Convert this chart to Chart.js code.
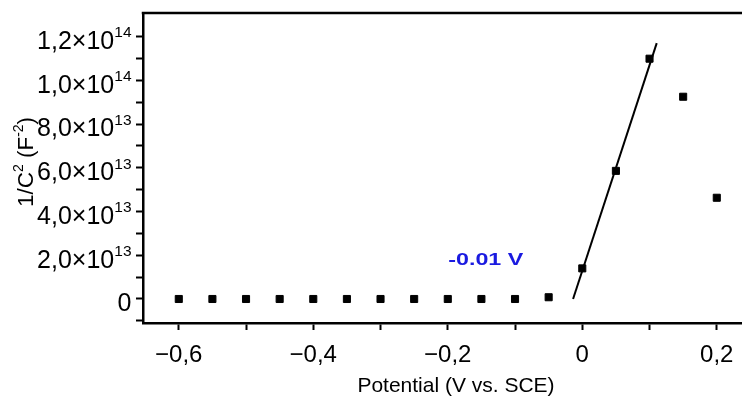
<!DOCTYPE html>
<html>
<head>
<meta charset="utf-8">
<script src="https://cdn.jsdelivr.net/npm/chart.js@4.4.0/dist/chart.umd.min.js"></script>
<style>
  html, body { margin: 0; padding: 0; background: #fff; overflow: hidden; }
  #wrap { width: 742px; height: 397px; }
</style>
</head>
<body>
<div id="wrap"><canvas id="chart" width="742" height="397"></canvas></div>
<script>
// Mott-Schottky plot: 1/C^2 vs potential, with the linear fit near 0 V

// ── Data ──
const potential = [-0.6, -0.55, -0.5, -0.45, -0.4, -0.35, -0.3, -0.25, -0.2,
                   -0.15, -0.1, -0.05, 0, 0.05, 0.1, 0.15, 0.2];
const invCapSq  = [0, 0, 0, 0, 0, 0, 0, 0, 0,
                   0, 0, 8e11, 1.40e13, 5.86e13, 1.099e14, 9.25e13, 4.63e13];

// fitted line (intercept -0.01 V)
const fitX = [-0.0137, 0.1107];
const fitY = [0, 1.17e14];

// ticks
const xTicks      = [-0.6, -0.5, -0.4, -0.3, -0.2, -0.1, 0, 0.1, 0.2];
const xTickLabels = ['\u22120,6', '', '\u22120,4', '', '\u22120,2', '', '0', '', '0,2'];
const yTicks      = [-1e13, 0, 1e13, 2e13, 3e13, 4e13, 5e13, 6e13, 7e13, 8e13,
                     9e13, 1e14, 1.1e14, 1.2e14];
const yTickLabels = ['', '0', '', '2,0\u00d710^13', '', '4,0\u00d710^13', '', '6,0\u00d710^13', '',
                     '8,0\u00d710^13', '', '1,0\u00d710^14', '', '1,2\u00d710^14'];

const xTitle = 'Potential (V vs. SCE)';
const note   = { text: '-0.01 V', x: -0.1435, y: 1.555e13 };

const FONT = "'Liberation Sans', Arial, sans-serif";

// ── Text drawn by hand (superscripts, frame top) ──
const axisText = {
  id: 'axisText',
  afterDraw(chart) {
    const { ctx, chartArea, scales } = chart;
    ctx.save();

    // top frame line
    ctx.strokeStyle = '#000';
    ctx.lineWidth = 2.5;
    ctx.beginPath();
    ctx.moveTo(chartArea.left - 1.25, chartArea.top);
    ctx.lineTo(chartArea.right, chartArea.top);
    ctx.stroke();

    ctx.fillStyle = '#000';
    ctx.textBaseline = 'alphabetic';

    // y tick labels with exponent
    const right = 131.5;
    yTicks.forEach((v, i) => {
      const lbl = yTickLabels[i];
      if (!lbl) return;
      const py = scales.y.getPixelForValue(v);
      const [base, exp] = lbl.split('^');
      let x = right;
      ctx.textAlign = 'right';
      if (exp) {
        ctx.font = `15.5px ${FONT}`;
        ctx.fillText(exp, x, py + 12.3 - 11.5);
        x -= ctx.measureText(exp).width;
      }
      ctx.font = `25px ${FONT}`;
      ctx.fillText(base, x, py + 12.3);
    });

    // y title, rotated
    const parts = [['1/C', 22.5, 0], ['2', 14, -10.5], [' (F', 22.5, 0], ['-2', 14, -10.5], [')', 22.5, 0]];
    let total = 0;
    parts.forEach(p => { ctx.font = `${p[1]}px ${FONT}`; total += ctx.measureText(p[0]).width; });
    ctx.save();
    ctx.translate(33, 162);
    ctx.rotate(-Math.PI / 2);
    ctx.textAlign = 'left';
    let tx = -total / 2;
    parts.forEach(p => {
      ctx.font = `${p[1]}px ${FONT}`;
      ctx.fillText(p[0], tx, p[2]);
      tx += ctx.measureText(p[0]).width;
    });
    ctx.restore();

    // x title
    ctx.textAlign = 'center';
    ctx.font = `21px ${FONT}`;
    ctx.fillText(xTitle, 456, 391.5);

    // intercept note
    const nx = scales.x.getPixelForValue(note.x);
    const ny = scales.y.getPixelForValue(note.y);
    ctx.translate(nx, ny);
    ctx.scale(1.37, 1);
    ctx.fillStyle = '#1a1ae0';
    ctx.font = `bold 17px ${FONT}`;
    ctx.fillText(note.text, 0, 0);

    ctx.restore();
  }
};

const tickGrid = {
  drawOnChartArea: false,
  drawTicks: true,
  tickLength: 7,
  tickWidth: 2,
  tickColor: '#000',
};

// keep the plot frame exactly where the axes sit, no label padding
const noPad = s => {
  s.paddingLeft = 0; s.paddingRight = 0;
  s.paddingTop = 0; s.paddingBottom = 0;
};

new Chart(document.getElementById('chart'), {
  type: 'scatter',
  data: {
    datasets: [
      {
        label: '1/C\u00b2',
        data: potential.map((x, i) => ({ x, y: invCapSq[i] })),
        pointStyle: 'rect',
        pointRadius: 5,
        backgroundColor: '#000',
        borderColor: '#000',
        borderWidth: 1,
        showLine: false,
      },
      {
        label: 'fit',
        data: fitX.map((x, i) => ({ x, y: fitY[i] })),
        showLine: true,
        pointRadius: 0,
        borderColor: '#000',
        borderWidth: 2,
        fill: false,
      },
    ],
  },
  options: {
    responsive: false,
    animation: false,
    layout: { autoPadding: false, padding: { top: 13, left: 0, right: 0, bottom: 0 } },
    plugins: {
      legend: { display: false },
      tooltip: { enabled: false },
    },
    scales: {
      x: {
        type: 'linear',
        min: -0.6532,
        max: 0.2375,
        afterBuildTicks: s => { s.ticks = xTicks.map(v => ({ value: v })); },
        afterFit: s => { s.height = 74; noPad(s); },
        ticks: {
          callback: (v, i) => xTickLabels[i],
          font: { family: FONT, size: 24 },
          color: '#000',
          padding: 11,
          maxRotation: 0,
          autoSkip: false,
        },
        grid: tickGrid,
        border: { color: '#000', width: 2.5 },
      },
      y: {
        type: 'linear',
        min: -1.098e13,
        max: 1.308e14,
        afterBuildTicks: s => { s.ticks = yTicks.map(v => ({ value: v })); },
        afterFit: s => { s.width = 143; noPad(s); },
        ticks: { callback: () => '', autoSkip: false },
        grid: tickGrid,
        border: { color: '#000', width: 2.5 },
      },
    },
  },
  plugins: [axisText],
});
</script>
</body>
</html>
